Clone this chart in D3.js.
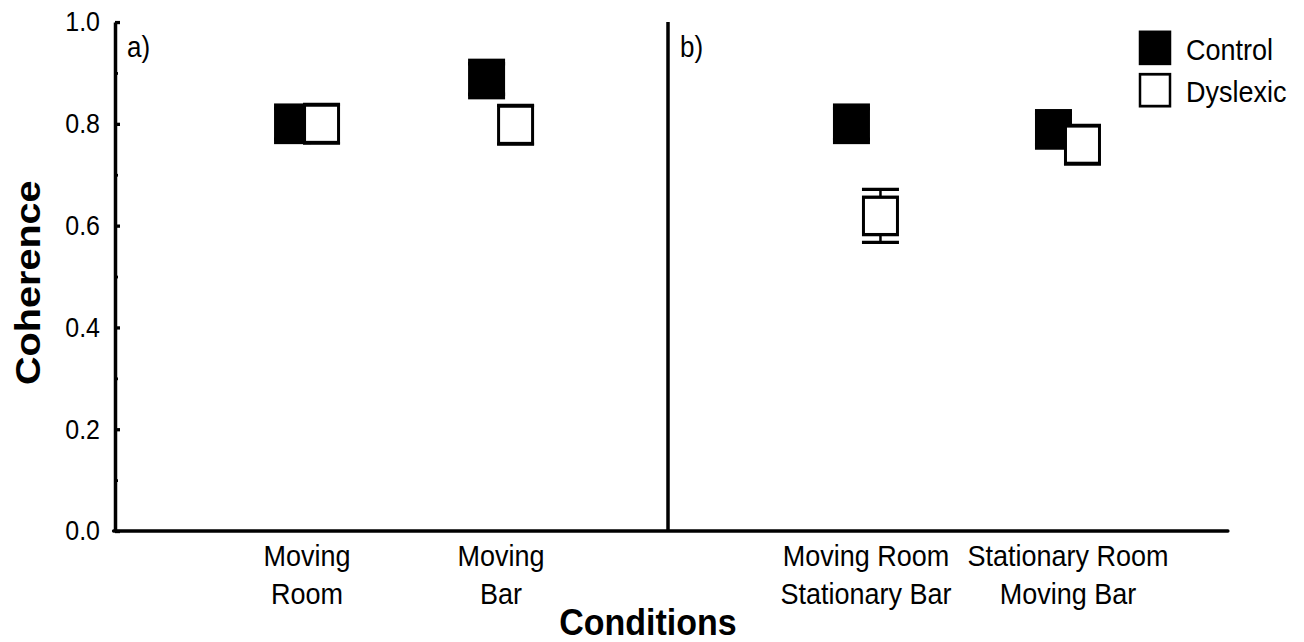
<!DOCTYPE html>
<html>
<head>
<meta charset="utf-8">
<script src="https://cdn.jsdelivr.net/npm/d3@7"></script>
<style>
  body { margin: 0; background: #fff; }
  text { font-family: "Liberation Sans", Arial, sans-serif; fill: #000; }
</style>
</head>
<body>
<div id="chart"></div>
<script>
// data
var panelA = ["Moving Room", "Moving Bar"];
var panelB = ["Moving Room Stationary Bar", "Stationary Room Moving Bar"];
var labelLines = [["Moving", "Room"], ["Moving", "Bar"], ["Moving Room", "Stationary Bar"], ["Stationary Room", "Moving Bar"]];
var groups = ["Control", "Dyslexic"];
var control = [0.80, 0.888, 0.80, 0.789];
var dyslexic = [0.80, 0.798, 0.619, 0.759];
var controlErr = [0.03, 0.03, 0.03, 0.03];
var dyslexicErr = [0.038, 0.038, 0.052, 0.038];
var majorTicks = [0, 0.2, 0.4, 0.6, 0.8, 1.0];
var minorTicks = [0.1, 0.3, 0.5, 0.7, 0.9];

// the original picture is stretched a bit vertically, so draw in a squashed viewBox
var W = 1304, H = 642, stretch = 1.1;
var vbH = H / stretch;

var svg = d3.select("#chart")
  .append("svg")
  .attr("width", W)
  .attr("height", H)
  .attr("viewBox", `0 0 ${W} ${vbH}`)
  .attr("preserveAspectRatio", "none");

var plotLeft = 115, plotRight = 1228, split = 668;
var plotTop = 20, plotBottom = 482.7;

var y = d3.scaleLinear().domain([0, 1]).range([plotBottom, plotTop]);

// one point scale per panel
var xA = d3.scalePoint().domain(panelA).range([plotLeft, split]).padding(0.925).align(0.535);
var xB = d3.scalePoint().domain(panelB).range([split, plotRight]).padding(0.886).align(0.553);
var cats = panelA.concat(panelB);
function xCat(c) { return panelA.includes(c) ? xA(c) : xB(c); }
var dodge = d3.scalePoint().domain(groups).range([-14.5, 14.5]);

var rows = cats.map(function(c, i) {
  return [
    {cat: c, group: "Control", value: control[i], err: controlErr[i]},
    {cat: c, group: "Dyslexic", value: dyslexic[i], err: dyslexicErr[i]}
  ];
});
var points = d3.merge([rows.map(r => r[0]), rows.map(r => r[1])]);

// y axis
var yAxis = svg.append("g")
  .attr("transform", `translate(${plotLeft},0)`)
  .call(d3.axisLeft(y).tickValues(majorTicks).tickFormat(d3.format(".1f"))
    .tickSizeInner(-5).tickSizeOuter(0).tickPadding(15));
yAxis.select(".domain").attr("stroke-width", 3.5);
yAxis.selectAll(".tick line").attr("stroke-width", 3);
yAxis.selectAll(".tick text")
  .attr("font-size", 25)
  .attr("font-family", "Liberation Sans, Arial, sans-serif");

var yMinor = svg.append("g")
  .attr("transform", `translate(${plotLeft},0)`)
  .call(d3.axisLeft(y).tickValues(minorTicks).tickFormat("").tickSizeInner(-3).tickSizeOuter(0));
yMinor.select(".domain").remove();
yMinor.selectAll(".tick line").attr("stroke-width", 2.5);

// x axis line and panel divider
svg.append("line")
  .attr("x1", plotLeft - 1.5).attr("x2", plotRight)
  .attr("y1", y(0)).attr("y2", y(0))
  .attr("stroke", "#000").attr("stroke-width", 3.2)
  .attr("stroke-linecap", "round");

svg.append("line")
  .attr("x1", split).attr("x2", split)
  .attr("y1", y(1)).attr("y2", y(0))
  .attr("stroke", "#000").attr("stroke-width", 3.5);

// panel tags
svg.append("text").attr("x", plotLeft + 12).attr("y", 52).attr("font-size", 26).text("a)");
svg.append("text").attr("x", split + 12).attr("y", 52).attr("font-size", 26).text("b)");

// category labels
svg.selectAll("text.cat")
  .data(cats)
  .enter()
  .append("text")
  .attr("class", "cat")
  .attr("text-anchor", "middle")
  .attr("font-size", 27)
  .each(function(c, i) {
    var t = d3.select(this);
    labelLines[i].forEach(function(line, j) {
      t.append("tspan")
        .attr("x", xCat(c))
        .attr("y", 514.5 + j * 34.5)
        .text(line);
    });
  });

// axis titles
svg.append("text")
  .attr("x", 648)
  .attr("y", 577)
  .attr("text-anchor", "middle")
  .attr("font-size", 34)
  .attr("font-weight", "bold")
  .text("Conditions");

svg.append("text")
  .attr("transform", `translate(40,${257}) rotate(-90)`)
  .attr("text-anchor", "middle")
  .attr("font-size", 36)
  .attr("font-weight", "bold")
  .text("Coherence");

// error bars
var box = 34, cap = 18.5;
var eb = svg.append("g");
points.forEach(function(d) {
  var cx = xCat(d.cat) + dodge(d.group);
  eb.append("line")
    .attr("x1", cx).attr("x2", cx)
    .attr("y1", y(d.value + d.err)).attr("y2", y(d.value - d.err))
    .attr("stroke", "#000").attr("stroke-width", 2.5);
  [d.value + d.err, d.value - d.err].forEach(function(v) {
    eb.append("line")
      .attr("x1", cx - cap).attr("x2", cx + cap)
      .attr("y1", y(v)).attr("y2", y(v))
      .attr("stroke", "#000").attr("stroke-width", 3);
  });
});

// markers: control first, dyslexic drawn on top
svg.selectAll("rect.mark")
  .data(points)
  .enter()
  .append("rect")
  .attr("class", "mark")
  .attr("x", d => xCat(d.cat) + dodge(d.group) - box / 2)
  .attr("y", d => y(d.value) - box / 2)
  .attr("width", box)
  .attr("height", box)
  .attr("fill", d => d.group == "Control" ? "#000" : "#fff")
  .attr("stroke", "#000")
  .attr("stroke-width", 3);

// legend
var legend = svg.append("g").attr("transform", "translate(1140,29)");
groups.forEach(function(g, i) {
  legend.append("rect")
    .attr("x", 0).attr("y", i * 38.5)
    .attr("width", 30).attr("height", 29)
    .attr("fill", g == "Control" ? "#000" : "#fff")
    .attr("stroke", "#000").attr("stroke-width", 2.5);
  legend.append("text")
    .attr("x", 46).attr("y", i * 38.5 + 25.5)
    .attr("font-size", 27)
    .text(g);
});
</script>
</body>
</html>
